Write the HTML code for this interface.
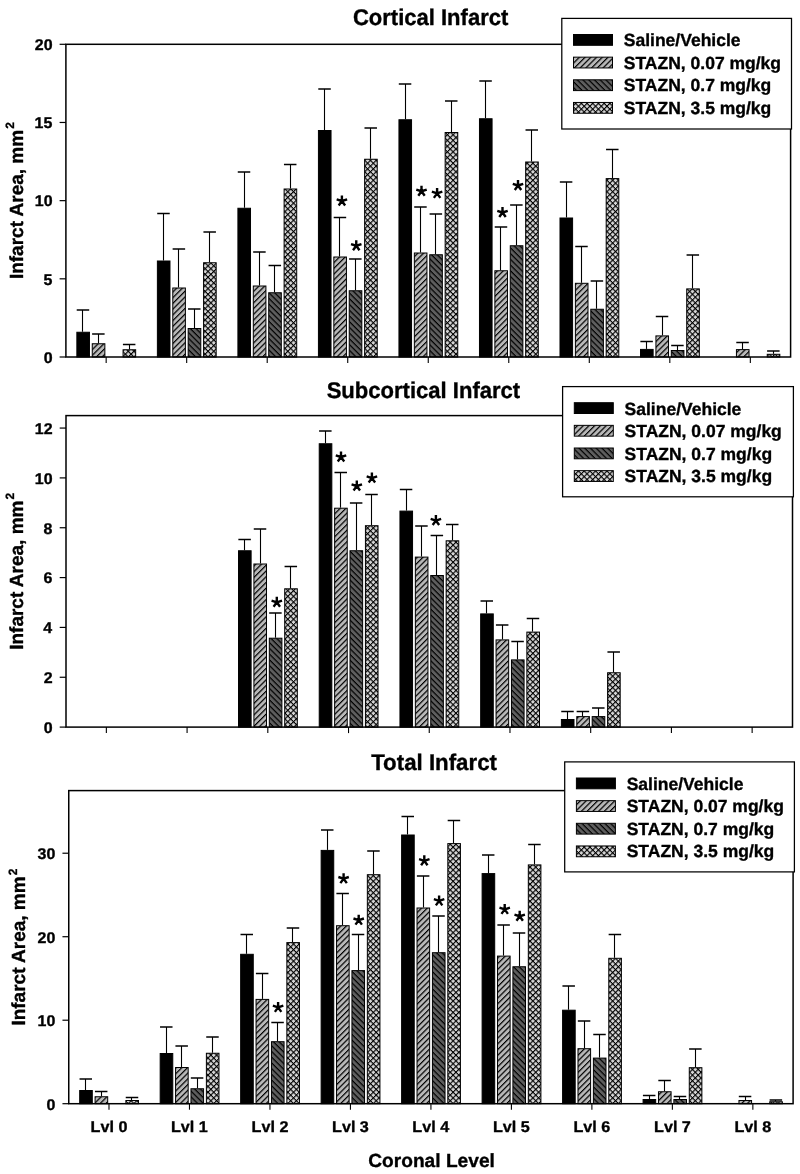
<!DOCTYPE html><html><head><meta charset="utf-8"><style>html,body{margin:0;padding:0;background:#fff;width:800px;height:1174px;overflow:hidden}svg{display:block;will-change:transform}text{font-family:"Liberation Sans",sans-serif;font-weight:bold;fill:#000;text-rendering:geometricPrecision;stroke:#000;stroke-width:0.35px;stroke-linejoin:round}</style></head><body>
<svg width="800" height="1174" viewBox="0 0 800 1174">
<defs>
<pattern id="ph" patternUnits="userSpaceOnUse" width="4.05" height="4.05" patternTransform="rotate(-45)"><rect width="5" height="5" fill="#b8b8b8"/><rect y="0" width="5" height="1.2" fill="#000"/></pattern>
<pattern id="pd" patternUnits="userSpaceOnUse" width="4.05" height="4.05" patternTransform="rotate(45)"><rect width="5" height="5" fill="#5e5e5e"/><rect y="0" width="5" height="1.2" fill="#000"/></pattern>
<pattern id="pc" patternUnits="userSpaceOnUse" width="4.03" height="4.03" patternTransform="rotate(45)"><rect width="5" height="5" fill="#d6d6d6"/><rect width="5" height="1.1" fill="#000"/><rect width="1.1" height="5" fill="#000"/></pattern>
</defs>
<rect width="800" height="1174" fill="#fff"/>
<rect x="76.86" y="332.25" width="12.60" height="24.75" fill="#000" stroke="#000" stroke-width="1"/>
<path d="M82.50 331.75V310.00" stroke="#000" stroke-width="1.1" fill="none"/>
<path d="M76.71 310.00H89.21" stroke="#000" stroke-width="1.5" fill="none"/>
<rect x="92.26" y="343.75" width="12.60" height="13.25" fill="url(#ph)" stroke="#000" stroke-width="1"/>
<path d="M98.50 343.25V334.00" stroke="#000" stroke-width="1.1" fill="none"/>
<path d="M92.11 334.00H104.61" stroke="#000" stroke-width="1.5" fill="none"/>
<rect x="123.06" y="349.75" width="12.60" height="7.25" fill="url(#pc)" stroke="#000" stroke-width="1"/>
<path d="M129.50 349.25V344.50" stroke="#000" stroke-width="1.1" fill="none"/>
<path d="M122.91 344.50H135.41" stroke="#000" stroke-width="1.5" fill="none"/>
<rect x="157.38" y="261.00" width="12.60" height="96.00" fill="#000" stroke="#000" stroke-width="1"/>
<path d="M163.50 260.50V213.50" stroke="#000" stroke-width="1.1" fill="none"/>
<path d="M157.23 213.50H169.73" stroke="#000" stroke-width="1.5" fill="none"/>
<rect x="172.78" y="288.00" width="12.60" height="69.00" fill="url(#ph)" stroke="#000" stroke-width="1"/>
<path d="M178.50 287.50V249.00" stroke="#000" stroke-width="1.1" fill="none"/>
<path d="M172.63 249.00H185.13" stroke="#000" stroke-width="1.5" fill="none"/>
<rect x="188.18" y="328.50" width="12.60" height="28.50" fill="url(#pd)" stroke="#000" stroke-width="1"/>
<path d="M194.50 328.00V309.00" stroke="#000" stroke-width="1.1" fill="none"/>
<path d="M188.03 309.00H200.53" stroke="#000" stroke-width="1.5" fill="none"/>
<rect x="203.58" y="262.75" width="12.60" height="94.25" fill="url(#pc)" stroke="#000" stroke-width="1"/>
<path d="M209.50 262.25V232.00" stroke="#000" stroke-width="1.1" fill="none"/>
<path d="M203.43 232.00H215.93" stroke="#000" stroke-width="1.5" fill="none"/>
<rect x="237.91" y="208.25" width="12.60" height="148.75" fill="#000" stroke="#000" stroke-width="1"/>
<path d="M244.50 207.75V172.00" stroke="#000" stroke-width="1.1" fill="none"/>
<path d="M237.76 172.00H250.26" stroke="#000" stroke-width="1.5" fill="none"/>
<rect x="253.31" y="286.00" width="12.60" height="71.00" fill="url(#ph)" stroke="#000" stroke-width="1"/>
<path d="M259.50 285.50V252.00" stroke="#000" stroke-width="1.1" fill="none"/>
<path d="M253.16 252.00H265.66" stroke="#000" stroke-width="1.5" fill="none"/>
<rect x="268.71" y="292.75" width="12.60" height="64.25" fill="url(#pd)" stroke="#000" stroke-width="1"/>
<path d="M274.50 292.25V265.50" stroke="#000" stroke-width="1.1" fill="none"/>
<path d="M268.56 265.50H281.06" stroke="#000" stroke-width="1.5" fill="none"/>
<rect x="284.11" y="189.00" width="12.60" height="168.00" fill="url(#pc)" stroke="#000" stroke-width="1"/>
<path d="M290.50 188.50V164.50" stroke="#000" stroke-width="1.1" fill="none"/>
<path d="M283.96 164.50H296.46" stroke="#000" stroke-width="1.5" fill="none"/>
<rect x="318.43" y="130.50" width="12.60" height="226.50" fill="#000" stroke="#000" stroke-width="1"/>
<path d="M324.50 130.00V89.00" stroke="#000" stroke-width="1.1" fill="none"/>
<path d="M318.28 89.00H330.78" stroke="#000" stroke-width="1.5" fill="none"/>
<rect x="333.83" y="257.00" width="12.60" height="100.00" fill="url(#ph)" stroke="#000" stroke-width="1"/>
<path d="M339.50 256.50V217.50" stroke="#000" stroke-width="1.1" fill="none"/>
<path d="M333.68 217.50H346.18" stroke="#000" stroke-width="1.5" fill="none"/>
<rect x="349.23" y="290.75" width="12.60" height="66.25" fill="url(#pd)" stroke="#000" stroke-width="1"/>
<path d="M355.50 290.25V259.00" stroke="#000" stroke-width="1.1" fill="none"/>
<path d="M349.08 259.00H361.58" stroke="#000" stroke-width="1.5" fill="none"/>
<rect x="364.63" y="159.25" width="12.60" height="197.75" fill="url(#pc)" stroke="#000" stroke-width="1"/>
<path d="M370.50 158.75V128.00" stroke="#000" stroke-width="1.1" fill="none"/>
<path d="M364.48 128.00H376.98" stroke="#000" stroke-width="1.5" fill="none"/>
<rect x="398.95" y="119.75" width="12.60" height="237.25" fill="#000" stroke="#000" stroke-width="1"/>
<path d="M405.50 119.25V84.00" stroke="#000" stroke-width="1.1" fill="none"/>
<path d="M398.80 84.00H411.30" stroke="#000" stroke-width="1.5" fill="none"/>
<rect x="414.35" y="253.00" width="12.60" height="104.00" fill="url(#ph)" stroke="#000" stroke-width="1"/>
<path d="M420.50 252.50V207.00" stroke="#000" stroke-width="1.1" fill="none"/>
<path d="M414.20 207.00H426.70" stroke="#000" stroke-width="1.5" fill="none"/>
<rect x="429.75" y="254.75" width="12.60" height="102.25" fill="url(#pd)" stroke="#000" stroke-width="1"/>
<path d="M435.50 254.25V214.00" stroke="#000" stroke-width="1.1" fill="none"/>
<path d="M429.60 214.00H442.10" stroke="#000" stroke-width="1.5" fill="none"/>
<rect x="445.15" y="132.50" width="12.60" height="224.50" fill="url(#pc)" stroke="#000" stroke-width="1"/>
<path d="M451.50 132.00V101.00" stroke="#000" stroke-width="1.1" fill="none"/>
<path d="M445.00 101.00H457.50" stroke="#000" stroke-width="1.5" fill="none"/>
<rect x="479.47" y="118.75" width="12.60" height="238.25" fill="#000" stroke="#000" stroke-width="1"/>
<path d="M485.50 118.25V81.00" stroke="#000" stroke-width="1.1" fill="none"/>
<path d="M479.32 81.00H491.82" stroke="#000" stroke-width="1.5" fill="none"/>
<rect x="494.87" y="270.75" width="12.60" height="86.25" fill="url(#ph)" stroke="#000" stroke-width="1"/>
<path d="M500.50 270.25V227.00" stroke="#000" stroke-width="1.1" fill="none"/>
<path d="M494.72 227.00H507.22" stroke="#000" stroke-width="1.5" fill="none"/>
<rect x="510.27" y="245.75" width="12.60" height="111.25" fill="url(#pd)" stroke="#000" stroke-width="1"/>
<path d="M516.50 245.25V205.00" stroke="#000" stroke-width="1.1" fill="none"/>
<path d="M510.12 205.00H522.62" stroke="#000" stroke-width="1.5" fill="none"/>
<rect x="525.67" y="162.00" width="12.60" height="195.00" fill="url(#pc)" stroke="#000" stroke-width="1"/>
<path d="M531.50 161.50V130.00" stroke="#000" stroke-width="1.1" fill="none"/>
<path d="M525.52 130.00H538.02" stroke="#000" stroke-width="1.5" fill="none"/>
<rect x="559.99" y="218.00" width="12.60" height="139.00" fill="#000" stroke="#000" stroke-width="1"/>
<path d="M566.50 217.50V182.00" stroke="#000" stroke-width="1.1" fill="none"/>
<path d="M559.84 182.00H572.34" stroke="#000" stroke-width="1.5" fill="none"/>
<rect x="575.39" y="283.30" width="12.60" height="73.70" fill="url(#ph)" stroke="#000" stroke-width="1"/>
<path d="M581.50 282.80V246.50" stroke="#000" stroke-width="1.1" fill="none"/>
<path d="M575.24 246.50H587.74" stroke="#000" stroke-width="1.5" fill="none"/>
<rect x="590.79" y="309.25" width="12.60" height="47.75" fill="url(#pd)" stroke="#000" stroke-width="1"/>
<path d="M596.50 308.75V281.00" stroke="#000" stroke-width="1.1" fill="none"/>
<path d="M590.64 281.00H603.14" stroke="#000" stroke-width="1.5" fill="none"/>
<rect x="606.19" y="178.60" width="12.60" height="178.40" fill="url(#pc)" stroke="#000" stroke-width="1"/>
<path d="M612.50 178.10V149.50" stroke="#000" stroke-width="1.1" fill="none"/>
<path d="M606.04 149.50H618.54" stroke="#000" stroke-width="1.5" fill="none"/>
<rect x="640.52" y="349.40" width="12.60" height="7.60" fill="#000" stroke="#000" stroke-width="1"/>
<path d="M646.50 348.90V341.50" stroke="#000" stroke-width="1.1" fill="none"/>
<path d="M640.37 341.50H652.87" stroke="#000" stroke-width="1.5" fill="none"/>
<rect x="655.92" y="335.90" width="12.60" height="21.10" fill="url(#ph)" stroke="#000" stroke-width="1"/>
<path d="M662.50 335.40V316.50" stroke="#000" stroke-width="1.1" fill="none"/>
<path d="M655.77 316.50H668.27" stroke="#000" stroke-width="1.5" fill="none"/>
<rect x="671.32" y="350.50" width="12.60" height="6.50" fill="url(#pd)" stroke="#000" stroke-width="1"/>
<path d="M677.50 350.00V345.50" stroke="#000" stroke-width="1.1" fill="none"/>
<path d="M671.17 345.50H683.67" stroke="#000" stroke-width="1.5" fill="none"/>
<rect x="686.72" y="288.90" width="12.60" height="68.10" fill="url(#pc)" stroke="#000" stroke-width="1"/>
<path d="M692.50 288.40V255.00" stroke="#000" stroke-width="1.1" fill="none"/>
<path d="M686.57 255.00H699.07" stroke="#000" stroke-width="1.5" fill="none"/>
<rect x="736.44" y="349.60" width="12.60" height="7.40" fill="url(#ph)" stroke="#000" stroke-width="1"/>
<path d="M742.50 349.10V342.50" stroke="#000" stroke-width="1.1" fill="none"/>
<path d="M736.29 342.50H748.79" stroke="#000" stroke-width="1.5" fill="none"/>
<rect x="767.24" y="354.30" width="12.60" height="2.70" fill="url(#pc)" stroke="#000" stroke-width="1"/>
<path d="M773.50 353.80V351.00" stroke="#000" stroke-width="1.1" fill="none"/>
<path d="M767.09 351.00H779.59" stroke="#000" stroke-width="1.5" fill="none"/>
<path d="M341.90 201.00L341.90 195.50M341.90 201.00L347.13 199.30M341.90 201.00L345.13 205.45M341.90 201.00L338.67 205.45M341.90 201.00L336.67 199.30" stroke="#000" stroke-width="2.4" fill="none"/>
<path d="M356.25 245.75L356.25 240.25M356.25 245.75L361.48 244.05M356.25 245.75L359.48 250.20M356.25 245.75L353.02 250.20M356.25 245.75L351.02 244.05" stroke="#000" stroke-width="2.4" fill="none"/>
<path d="M421.50 191.25L421.50 185.75M421.50 191.25L426.73 189.55M421.50 191.25L424.73 195.70M421.50 191.25L418.27 195.70M421.50 191.25L416.27 189.55" stroke="#000" stroke-width="2.4" fill="none"/>
<path d="M437.10 193.40L437.10 187.90M437.10 193.40L442.33 191.70M437.10 193.40L440.33 197.85M437.10 193.40L433.87 197.85M437.10 193.40L431.87 191.70" stroke="#000" stroke-width="2.4" fill="none"/>
<path d="M502.50 212.50L502.50 207.00M502.50 212.50L507.73 210.80M502.50 212.50L505.73 216.95M502.50 212.50L499.27 216.95M502.50 212.50L497.27 210.80" stroke="#000" stroke-width="2.4" fill="none"/>
<path d="M518.00 185.50L518.00 180.00M518.00 185.50L523.23 183.80M518.00 185.50L521.23 189.95M518.00 185.50L514.77 189.95M518.00 185.50L512.77 183.80" stroke="#000" stroke-width="2.4" fill="none"/>
<rect x="65.90" y="44.30" width="724.70" height="312.70" fill="none" stroke="#000" stroke-width="1.5"/>
<path d="M59.60 357.00H65.9" stroke="#000" stroke-width="1.2"/>
<text x="43.66" y="362.81" font-size="15.5" textLength="8.88" lengthAdjust="spacingAndGlyphs" >0</text>
<path d="M59.60 278.82H65.9" stroke="#000" stroke-width="1.2"/>
<text x="43.40" y="284.57" font-size="15.5" textLength="8.88" lengthAdjust="spacingAndGlyphs" >5</text>
<path d="M59.60 200.65H65.9" stroke="#000" stroke-width="1.2"/>
<text x="34.78" y="206.46" font-size="15.5" textLength="17.76" lengthAdjust="spacingAndGlyphs" >10</text>
<path d="M59.60 122.47H65.9" stroke="#000" stroke-width="1.2"/>
<text x="34.52" y="128.22" font-size="15.5" textLength="17.76" lengthAdjust="spacingAndGlyphs" >15</text>
<path d="M59.60 44.30H65.9" stroke="#000" stroke-width="1.2"/>
<text x="34.78" y="50.11" font-size="15.5" textLength="17.76" lengthAdjust="spacingAndGlyphs" >20</text>
<path d="M106.16 357.00V363.00" stroke="#000" stroke-width="1.1"/>
<path d="M186.68 357.00V363.00" stroke="#000" stroke-width="1.1"/>
<path d="M267.21 357.00V363.00" stroke="#000" stroke-width="1.1"/>
<path d="M347.73 357.00V363.00" stroke="#000" stroke-width="1.1"/>
<path d="M428.25 357.00V363.00" stroke="#000" stroke-width="1.1"/>
<path d="M508.77 357.00V363.00" stroke="#000" stroke-width="1.1"/>
<path d="M589.29 357.00V363.00" stroke="#000" stroke-width="1.1"/>
<path d="M669.82 357.00V363.00" stroke="#000" stroke-width="1.1"/>
<path d="M750.34 357.00V363.00" stroke="#000" stroke-width="1.1"/>
<text x="352.90" y="24.80" font-size="22.7" textLength="155.39" lengthAdjust="spacingAndGlyphs" >Cortical Infarct</text>
<g transform="translate(22.50,277.85) rotate(-90)"><text x="-1.25" y="0.00" font-size="19" >Infarct Area, mm</text><text x="149.16" y="-8.70" font-size="12" >2</text></g>
<rect x="561.80" y="18.40" width="229.70" height="110.60" fill="#fff" stroke="#000" stroke-width="1.25"/>
<rect x="573.50" y="34.50" width="39" height="10.8" fill="#000" stroke="#000" stroke-width="1"/>
<text x="623.80" y="46.40" font-size="17.5" >Saline/Vehicle</text>
<rect x="573.50" y="57.15" width="39" height="10.8" fill="url(#ph)" stroke="#000" stroke-width="1"/>
<text x="623.80" y="68.85" font-size="17.5" >STAZN, 0.07 mg/kg</text>
<rect x="573.50" y="79.80" width="39" height="10.8" fill="url(#pd)" stroke="#000" stroke-width="1"/>
<text x="623.80" y="91.30" font-size="17.5" >STAZN, 0.7 mg/kg</text>
<rect x="573.50" y="102.45" width="39" height="10.8" fill="url(#pc)" stroke="#000" stroke-width="1"/>
<text x="623.80" y="113.75" font-size="17.5" >STAZN, 3.5 mg/kg</text>
<rect x="238.51" y="550.75" width="12.60" height="176.35" fill="#000" stroke="#000" stroke-width="1"/>
<path d="M244.50 550.25V539.50" stroke="#000" stroke-width="1.1" fill="none"/>
<path d="M238.36 539.50H250.86" stroke="#000" stroke-width="1.5" fill="none"/>
<rect x="253.91" y="564.00" width="12.60" height="163.10" fill="url(#ph)" stroke="#000" stroke-width="1"/>
<path d="M260.50 563.50V529.00" stroke="#000" stroke-width="1.1" fill="none"/>
<path d="M253.76 529.00H266.26" stroke="#000" stroke-width="1.5" fill="none"/>
<rect x="269.31" y="638.20" width="12.60" height="88.90" fill="url(#pd)" stroke="#000" stroke-width="1"/>
<path d="M275.50 637.70V613.00" stroke="#000" stroke-width="1.1" fill="none"/>
<path d="M269.16 613.00H281.66" stroke="#000" stroke-width="1.5" fill="none"/>
<rect x="284.71" y="588.80" width="12.60" height="138.30" fill="url(#pc)" stroke="#000" stroke-width="1"/>
<path d="M290.50 588.30V566.50" stroke="#000" stroke-width="1.1" fill="none"/>
<path d="M284.56 566.50H297.06" stroke="#000" stroke-width="1.5" fill="none"/>
<rect x="319.23" y="443.75" width="12.60" height="283.35" fill="#000" stroke="#000" stroke-width="1"/>
<path d="M325.50 443.25V431.00" stroke="#000" stroke-width="1.1" fill="none"/>
<path d="M319.08 431.00H331.58" stroke="#000" stroke-width="1.5" fill="none"/>
<rect x="334.63" y="508.20" width="12.60" height="218.90" fill="url(#ph)" stroke="#000" stroke-width="1"/>
<path d="M340.50 507.70V472.50" stroke="#000" stroke-width="1.1" fill="none"/>
<path d="M334.48 472.50H346.98" stroke="#000" stroke-width="1.5" fill="none"/>
<rect x="350.03" y="550.75" width="12.60" height="176.35" fill="url(#pd)" stroke="#000" stroke-width="1"/>
<path d="M356.50 550.25V503.00" stroke="#000" stroke-width="1.1" fill="none"/>
<path d="M349.88 503.00H362.38" stroke="#000" stroke-width="1.5" fill="none"/>
<rect x="365.43" y="525.70" width="12.60" height="201.40" fill="url(#pc)" stroke="#000" stroke-width="1"/>
<path d="M371.50 525.20V494.50" stroke="#000" stroke-width="1.1" fill="none"/>
<path d="M365.28 494.50H377.78" stroke="#000" stroke-width="1.5" fill="none"/>
<rect x="399.95" y="511.10" width="12.60" height="216.00" fill="#000" stroke="#000" stroke-width="1"/>
<path d="M406.50 510.60V489.50" stroke="#000" stroke-width="1.1" fill="none"/>
<path d="M399.80 489.50H412.30" stroke="#000" stroke-width="1.5" fill="none"/>
<rect x="415.35" y="557.10" width="12.60" height="170.00" fill="url(#ph)" stroke="#000" stroke-width="1"/>
<path d="M421.50 556.60V526.00" stroke="#000" stroke-width="1.1" fill="none"/>
<path d="M415.20 526.00H427.70" stroke="#000" stroke-width="1.5" fill="none"/>
<rect x="430.75" y="575.50" width="12.60" height="151.60" fill="url(#pd)" stroke="#000" stroke-width="1"/>
<path d="M436.50 575.00V535.50" stroke="#000" stroke-width="1.1" fill="none"/>
<path d="M430.60 535.50H443.10" stroke="#000" stroke-width="1.5" fill="none"/>
<rect x="446.15" y="540.80" width="12.60" height="186.30" fill="url(#pc)" stroke="#000" stroke-width="1"/>
<path d="M452.50 540.30V524.50" stroke="#000" stroke-width="1.1" fill="none"/>
<path d="M446.00 524.50H458.50" stroke="#000" stroke-width="1.5" fill="none"/>
<rect x="480.67" y="613.90" width="12.60" height="113.20" fill="#000" stroke="#000" stroke-width="1"/>
<path d="M486.50 613.40V601.00" stroke="#000" stroke-width="1.1" fill="none"/>
<path d="M480.52 601.00H493.02" stroke="#000" stroke-width="1.5" fill="none"/>
<rect x="496.07" y="639.90" width="12.60" height="87.20" fill="url(#ph)" stroke="#000" stroke-width="1"/>
<path d="M502.50 639.40V625.00" stroke="#000" stroke-width="1.1" fill="none"/>
<path d="M495.92 625.00H508.42" stroke="#000" stroke-width="1.5" fill="none"/>
<rect x="511.47" y="659.90" width="12.60" height="67.20" fill="url(#pd)" stroke="#000" stroke-width="1"/>
<path d="M517.50 659.40V641.50" stroke="#000" stroke-width="1.1" fill="none"/>
<path d="M511.32 641.50H523.82" stroke="#000" stroke-width="1.5" fill="none"/>
<rect x="526.87" y="632.10" width="12.60" height="95.00" fill="url(#pc)" stroke="#000" stroke-width="1"/>
<path d="M532.50 631.60V618.50" stroke="#000" stroke-width="1.1" fill="none"/>
<path d="M526.72 618.50H539.22" stroke="#000" stroke-width="1.5" fill="none"/>
<rect x="561.39" y="719.50" width="12.60" height="7.60" fill="#000" stroke="#000" stroke-width="1"/>
<path d="M567.50 719.00V711.50" stroke="#000" stroke-width="1.1" fill="none"/>
<path d="M561.24 711.50H573.74" stroke="#000" stroke-width="1.5" fill="none"/>
<rect x="576.79" y="716.60" width="12.60" height="10.50" fill="url(#ph)" stroke="#000" stroke-width="1"/>
<path d="M582.50 716.10V711.50" stroke="#000" stroke-width="1.1" fill="none"/>
<path d="M576.64 711.50H589.14" stroke="#000" stroke-width="1.5" fill="none"/>
<rect x="592.19" y="716.60" width="12.60" height="10.50" fill="url(#pd)" stroke="#000" stroke-width="1"/>
<path d="M598.50 716.10V708.00" stroke="#000" stroke-width="1.1" fill="none"/>
<path d="M592.04 708.00H604.54" stroke="#000" stroke-width="1.5" fill="none"/>
<rect x="607.59" y="672.75" width="12.60" height="54.35" fill="url(#pc)" stroke="#000" stroke-width="1"/>
<path d="M613.50 672.25V652.00" stroke="#000" stroke-width="1.1" fill="none"/>
<path d="M607.44 652.00H619.94" stroke="#000" stroke-width="1.5" fill="none"/>
<path d="M276.80 602.30L276.80 596.80M276.80 602.30L282.03 600.60M276.80 602.30L280.03 606.75M276.80 602.30L273.57 606.75M276.80 602.30L271.57 600.60" stroke="#000" stroke-width="2.4" fill="none"/>
<path d="M341.00 457.00L341.00 451.50M341.00 457.00L346.23 455.30M341.00 457.00L344.23 461.45M341.00 457.00L337.77 461.45M341.00 457.00L335.77 455.30" stroke="#000" stroke-width="2.4" fill="none"/>
<path d="M356.80 486.00L356.80 480.50M356.80 486.00L362.03 484.30M356.80 486.00L360.03 490.45M356.80 486.00L353.57 490.45M356.80 486.00L351.57 484.30" stroke="#000" stroke-width="2.4" fill="none"/>
<path d="M371.90 478.10L371.90 472.60M371.90 478.10L377.13 476.40M371.90 478.10L375.13 482.55M371.90 478.10L368.67 482.55M371.90 478.10L366.67 476.40" stroke="#000" stroke-width="2.4" fill="none"/>
<path d="M435.90 520.60L435.90 515.10M435.90 520.60L441.13 518.90M435.90 520.60L439.13 525.05M435.90 520.60L432.67 525.05M435.90 520.60L430.67 518.90" stroke="#000" stroke-width="2.4" fill="none"/>
<rect x="66.00" y="415.60" width="726.50" height="311.50" fill="none" stroke="#000" stroke-width="1.5"/>
<path d="M59.70 727.10H66.0" stroke="#000" stroke-width="1.2"/>
<text x="43.76" y="732.91" font-size="15.5" textLength="8.88" lengthAdjust="spacingAndGlyphs" >0</text>
<path d="M59.70 677.26H66.0" stroke="#000" stroke-width="1.2"/>
<text x="43.76" y="683.13" font-size="15.5" textLength="8.88" lengthAdjust="spacingAndGlyphs" >2</text>
<path d="M59.70 627.42H66.0" stroke="#000" stroke-width="1.2"/>
<text x="43.24" y="633.23" font-size="15.5" textLength="8.88" lengthAdjust="spacingAndGlyphs" >4</text>
<path d="M59.70 577.58H66.0" stroke="#000" stroke-width="1.2"/>
<text x="43.63" y="583.39" font-size="15.5" textLength="8.88" lengthAdjust="spacingAndGlyphs" >6</text>
<path d="M59.70 527.74H66.0" stroke="#000" stroke-width="1.2"/>
<text x="43.63" y="533.55" font-size="15.5" textLength="8.88" lengthAdjust="spacingAndGlyphs" >8</text>
<path d="M59.70 477.90H66.0" stroke="#000" stroke-width="1.2"/>
<text x="34.88" y="483.71" font-size="15.5" textLength="17.76" lengthAdjust="spacingAndGlyphs" >10</text>
<path d="M59.70 428.06H66.0" stroke="#000" stroke-width="1.2"/>
<text x="34.88" y="433.94" font-size="15.5" textLength="17.76" lengthAdjust="spacingAndGlyphs" >12</text>
<path d="M106.36 727.10V733.10" stroke="#000" stroke-width="1.1"/>
<path d="M187.08 727.10V733.10" stroke="#000" stroke-width="1.1"/>
<path d="M267.81 727.10V733.10" stroke="#000" stroke-width="1.1"/>
<path d="M348.53 727.10V733.10" stroke="#000" stroke-width="1.1"/>
<path d="M429.25 727.10V733.10" stroke="#000" stroke-width="1.1"/>
<path d="M509.97 727.10V733.10" stroke="#000" stroke-width="1.1"/>
<path d="M590.69 727.10V733.10" stroke="#000" stroke-width="1.1"/>
<path d="M671.42 727.10V733.10" stroke="#000" stroke-width="1.1"/>
<path d="M752.14 727.10V733.10" stroke="#000" stroke-width="1.1"/>
<text x="326.64" y="397.70" font-size="22.7" textLength="193.56" lengthAdjust="spacingAndGlyphs" >Subcortical Infarct</text>
<g transform="translate(22.90,648.55) rotate(-90)"><text x="-1.25" y="0.00" font-size="19" >Infarct Area, mm</text><text x="149.16" y="-8.70" font-size="12" >2</text></g>
<rect x="562.60" y="386.60" width="230.80" height="110.20" fill="#fff" stroke="#000" stroke-width="1.25"/>
<rect x="574.30" y="402.70" width="39" height="10.8" fill="#000" stroke="#000" stroke-width="1"/>
<text x="624.60" y="414.60" font-size="17.5" >Saline/Vehicle</text>
<rect x="574.30" y="425.35" width="39" height="10.8" fill="url(#ph)" stroke="#000" stroke-width="1"/>
<text x="624.60" y="437.05" font-size="17.5" >STAZN, 0.07 mg/kg</text>
<rect x="574.30" y="448.00" width="39" height="10.8" fill="url(#pd)" stroke="#000" stroke-width="1"/>
<text x="624.60" y="459.50" font-size="17.5" >STAZN, 0.7 mg/kg</text>
<rect x="574.30" y="470.65" width="39" height="10.8" fill="url(#pc)" stroke="#000" stroke-width="1"/>
<text x="624.60" y="481.95" font-size="17.5" >STAZN, 3.5 mg/kg</text>
<rect x="79.69" y="1090.50" width="12.60" height="13.20" fill="#000" stroke="#000" stroke-width="1"/>
<path d="M85.50 1090.00V1079.00" stroke="#000" stroke-width="1.1" fill="none"/>
<path d="M79.54 1079.00H92.04" stroke="#000" stroke-width="1.5" fill="none"/>
<rect x="95.09" y="1096.75" width="12.60" height="6.95" fill="url(#ph)" stroke="#000" stroke-width="1"/>
<path d="M101.50 1096.25V1091.50" stroke="#000" stroke-width="1.1" fill="none"/>
<path d="M94.94 1091.50H107.44" stroke="#000" stroke-width="1.5" fill="none"/>
<rect x="125.89" y="1100.50" width="12.60" height="3.20" fill="url(#pc)" stroke="#000" stroke-width="1"/>
<path d="M131.50 1100.00V1097.50" stroke="#000" stroke-width="1.1" fill="none"/>
<path d="M125.74 1097.50H138.24" stroke="#000" stroke-width="1.5" fill="none"/>
<rect x="160.17" y="1053.50" width="12.60" height="50.20" fill="#000" stroke="#000" stroke-width="1"/>
<path d="M166.50 1053.00V1027.00" stroke="#000" stroke-width="1.1" fill="none"/>
<path d="M160.03 1027.00H172.53" stroke="#000" stroke-width="1.5" fill="none"/>
<rect x="175.57" y="1067.50" width="12.60" height="36.20" fill="url(#ph)" stroke="#000" stroke-width="1"/>
<path d="M181.50 1067.00V1046.00" stroke="#000" stroke-width="1.1" fill="none"/>
<path d="M175.43 1046.00H187.93" stroke="#000" stroke-width="1.5" fill="none"/>
<rect x="190.97" y="1088.75" width="12.60" height="14.95" fill="url(#pd)" stroke="#000" stroke-width="1"/>
<path d="M197.50 1088.25V1078.00" stroke="#000" stroke-width="1.1" fill="none"/>
<path d="M190.83 1078.00H203.33" stroke="#000" stroke-width="1.5" fill="none"/>
<rect x="206.38" y="1053.25" width="12.60" height="50.45" fill="url(#pc)" stroke="#000" stroke-width="1"/>
<path d="M212.50 1052.75V1037.00" stroke="#000" stroke-width="1.1" fill="none"/>
<path d="M206.23 1037.00H218.73" stroke="#000" stroke-width="1.5" fill="none"/>
<rect x="240.66" y="954.30" width="12.60" height="149.40" fill="#000" stroke="#000" stroke-width="1"/>
<path d="M246.50 953.80V934.50" stroke="#000" stroke-width="1.1" fill="none"/>
<path d="M240.51 934.50H253.01" stroke="#000" stroke-width="1.5" fill="none"/>
<rect x="256.06" y="999.40" width="12.60" height="104.30" fill="url(#ph)" stroke="#000" stroke-width="1"/>
<path d="M262.50 998.90V973.50" stroke="#000" stroke-width="1.1" fill="none"/>
<path d="M255.91 973.50H268.41" stroke="#000" stroke-width="1.5" fill="none"/>
<rect x="271.46" y="1041.70" width="12.60" height="62.00" fill="url(#pd)" stroke="#000" stroke-width="1"/>
<path d="M277.50 1041.20V1022.50" stroke="#000" stroke-width="1.1" fill="none"/>
<path d="M271.31 1022.50H283.81" stroke="#000" stroke-width="1.5" fill="none"/>
<rect x="286.86" y="942.60" width="12.60" height="161.10" fill="url(#pc)" stroke="#000" stroke-width="1"/>
<path d="M292.50 942.10V928.00" stroke="#000" stroke-width="1.1" fill="none"/>
<path d="M286.71 928.00H299.21" stroke="#000" stroke-width="1.5" fill="none"/>
<rect x="321.14" y="850.40" width="12.60" height="253.30" fill="#000" stroke="#000" stroke-width="1"/>
<path d="M327.50 849.90V830.00" stroke="#000" stroke-width="1.1" fill="none"/>
<path d="M320.99 830.00H333.49" stroke="#000" stroke-width="1.5" fill="none"/>
<rect x="336.54" y="925.70" width="12.60" height="178.00" fill="url(#ph)" stroke="#000" stroke-width="1"/>
<path d="M342.50 925.20V893.50" stroke="#000" stroke-width="1.1" fill="none"/>
<path d="M336.39 893.50H348.89" stroke="#000" stroke-width="1.5" fill="none"/>
<rect x="351.94" y="970.60" width="12.60" height="133.10" fill="url(#pd)" stroke="#000" stroke-width="1"/>
<path d="M358.50 970.10V934.50" stroke="#000" stroke-width="1.1" fill="none"/>
<path d="M351.79 934.50H364.29" stroke="#000" stroke-width="1.5" fill="none"/>
<rect x="367.34" y="874.70" width="12.60" height="229.00" fill="url(#pc)" stroke="#000" stroke-width="1"/>
<path d="M373.50 874.20V851.00" stroke="#000" stroke-width="1.1" fill="none"/>
<path d="M367.19 851.00H379.69" stroke="#000" stroke-width="1.5" fill="none"/>
<rect x="401.62" y="835.00" width="12.60" height="268.70" fill="#000" stroke="#000" stroke-width="1"/>
<path d="M407.50 834.50V816.50" stroke="#000" stroke-width="1.1" fill="none"/>
<path d="M401.48 816.50H413.98" stroke="#000" stroke-width="1.5" fill="none"/>
<rect x="417.02" y="908.00" width="12.60" height="195.70" fill="url(#ph)" stroke="#000" stroke-width="1"/>
<path d="M423.50 907.50V876.00" stroke="#000" stroke-width="1.1" fill="none"/>
<path d="M416.88 876.00H429.38" stroke="#000" stroke-width="1.5" fill="none"/>
<rect x="432.43" y="952.70" width="12.60" height="151.00" fill="url(#pd)" stroke="#000" stroke-width="1"/>
<path d="M438.50 952.20V916.00" stroke="#000" stroke-width="1.1" fill="none"/>
<path d="M432.28 916.00H444.78" stroke="#000" stroke-width="1.5" fill="none"/>
<rect x="447.82" y="843.60" width="12.60" height="260.10" fill="url(#pc)" stroke="#000" stroke-width="1"/>
<path d="M453.50 843.10V820.50" stroke="#000" stroke-width="1.1" fill="none"/>
<path d="M447.68 820.50H460.18" stroke="#000" stroke-width="1.5" fill="none"/>
<rect x="482.11" y="873.60" width="12.60" height="230.10" fill="#000" stroke="#000" stroke-width="1"/>
<path d="M488.50 873.10V855.00" stroke="#000" stroke-width="1.1" fill="none"/>
<path d="M481.96 855.00H494.46" stroke="#000" stroke-width="1.5" fill="none"/>
<rect x="497.51" y="956.10" width="12.60" height="147.60" fill="url(#ph)" stroke="#000" stroke-width="1"/>
<path d="M503.50 955.60V925.00" stroke="#000" stroke-width="1.1" fill="none"/>
<path d="M497.36 925.00H509.86" stroke="#000" stroke-width="1.5" fill="none"/>
<rect x="512.91" y="966.75" width="12.60" height="136.95" fill="url(#pd)" stroke="#000" stroke-width="1"/>
<path d="M519.50 966.25V933.00" stroke="#000" stroke-width="1.1" fill="none"/>
<path d="M512.76 933.00H525.26" stroke="#000" stroke-width="1.5" fill="none"/>
<rect x="528.31" y="864.90" width="12.60" height="238.80" fill="url(#pc)" stroke="#000" stroke-width="1"/>
<path d="M534.50 864.40V844.50" stroke="#000" stroke-width="1.1" fill="none"/>
<path d="M528.16 844.50H540.66" stroke="#000" stroke-width="1.5" fill="none"/>
<rect x="562.59" y="1010.20" width="12.60" height="93.50" fill="#000" stroke="#000" stroke-width="1"/>
<path d="M568.50 1009.70V986.00" stroke="#000" stroke-width="1.1" fill="none"/>
<path d="M562.44 986.00H574.94" stroke="#000" stroke-width="1.5" fill="none"/>
<rect x="577.99" y="1048.70" width="12.60" height="55.00" fill="url(#ph)" stroke="#000" stroke-width="1"/>
<path d="M584.50 1048.20V1021.00" stroke="#000" stroke-width="1.1" fill="none"/>
<path d="M577.84 1021.00H590.34" stroke="#000" stroke-width="1.5" fill="none"/>
<rect x="593.39" y="1058.10" width="12.60" height="45.60" fill="url(#pd)" stroke="#000" stroke-width="1"/>
<path d="M599.50 1057.60V1034.50" stroke="#000" stroke-width="1.1" fill="none"/>
<path d="M593.24 1034.50H605.74" stroke="#000" stroke-width="1.5" fill="none"/>
<rect x="608.79" y="958.30" width="12.60" height="145.40" fill="url(#pc)" stroke="#000" stroke-width="1"/>
<path d="M614.50 957.80V934.50" stroke="#000" stroke-width="1.1" fill="none"/>
<path d="M608.64 934.50H621.14" stroke="#000" stroke-width="1.5" fill="none"/>
<rect x="643.08" y="1099.50" width="12.60" height="4.20" fill="#000" stroke="#000" stroke-width="1"/>
<path d="M649.50 1099.00V1095.50" stroke="#000" stroke-width="1.1" fill="none"/>
<path d="M642.92 1095.50H655.42" stroke="#000" stroke-width="1.5" fill="none"/>
<rect x="658.48" y="1091.75" width="12.60" height="11.95" fill="url(#ph)" stroke="#000" stroke-width="1"/>
<path d="M664.50 1091.25V1080.50" stroke="#000" stroke-width="1.1" fill="none"/>
<path d="M658.32 1080.50H670.82" stroke="#000" stroke-width="1.5" fill="none"/>
<rect x="673.88" y="1099.50" width="12.60" height="4.20" fill="url(#pd)" stroke="#000" stroke-width="1"/>
<path d="M679.50 1099.00V1096.50" stroke="#000" stroke-width="1.1" fill="none"/>
<path d="M673.72 1096.50H686.22" stroke="#000" stroke-width="1.5" fill="none"/>
<rect x="689.28" y="1067.70" width="12.60" height="36.00" fill="url(#pc)" stroke="#000" stroke-width="1"/>
<path d="M695.50 1067.20V1049.00" stroke="#000" stroke-width="1.1" fill="none"/>
<path d="M689.12 1049.00H701.62" stroke="#000" stroke-width="1.5" fill="none"/>
<rect x="738.96" y="1100.50" width="12.60" height="3.20" fill="url(#ph)" stroke="#000" stroke-width="1"/>
<path d="M745.50 1100.00V1096.50" stroke="#000" stroke-width="1.1" fill="none"/>
<path d="M738.81 1096.50H751.31" stroke="#000" stroke-width="1.5" fill="none"/>
<rect x="769.76" y="1101.75" width="12.60" height="1.95" fill="url(#pc)" stroke="#000" stroke-width="1"/>
<path d="M775.50 1101.25V1100.00" stroke="#000" stroke-width="1.1" fill="none"/>
<path d="M769.61 1100.00H782.11" stroke="#000" stroke-width="1.5" fill="none"/>
<path d="M278.10 1007.40L278.10 1001.90M278.10 1007.40L283.33 1005.70M278.10 1007.40L281.33 1011.85M278.10 1007.40L274.87 1011.85M278.10 1007.40L272.87 1005.70" stroke="#000" stroke-width="2.4" fill="none"/>
<path d="M343.60 878.70L343.60 873.20M343.60 878.70L348.83 877.00M343.60 878.70L346.83 883.15M343.60 878.70L340.37 883.15M343.60 878.70L338.37 877.00" stroke="#000" stroke-width="2.4" fill="none"/>
<path d="M358.70 920.20L358.70 914.70M358.70 920.20L363.93 918.50M358.70 920.20L361.93 924.65M358.70 920.20L355.47 924.65M358.70 920.20L353.47 918.50" stroke="#000" stroke-width="2.4" fill="none"/>
<path d="M424.30 860.85L424.30 855.35M424.30 860.85L429.53 859.15M424.30 860.85L427.53 865.30M424.30 860.85L421.07 865.30M424.30 860.85L419.07 859.15" stroke="#000" stroke-width="2.4" fill="none"/>
<path d="M439.10 900.90L439.10 895.40M439.10 900.90L444.33 899.20M439.10 900.90L442.33 905.35M439.10 900.90L435.87 905.35M439.10 900.90L433.87 899.20" stroke="#000" stroke-width="2.4" fill="none"/>
<path d="M504.70 909.40L504.70 903.90M504.70 909.40L509.93 907.70M504.70 909.40L507.93 913.85M504.70 909.40L501.47 913.85M504.70 909.40L499.47 907.70" stroke="#000" stroke-width="2.4" fill="none"/>
<path d="M519.70 916.25L519.70 910.75M519.70 916.25L524.93 914.55M519.70 916.25L522.93 920.70M519.70 916.25L516.47 920.70M519.70 916.25L514.47 914.55" stroke="#000" stroke-width="2.4" fill="none"/>
<rect x="68.75" y="790.60" width="724.35" height="313.10" fill="none" stroke="#000" stroke-width="1.5"/>
<path d="M62.45 1103.70H68.75" stroke="#000" stroke-width="1.2"/>
<text x="46.51" y="1109.51" font-size="15.5" textLength="8.88" lengthAdjust="spacingAndGlyphs" >0</text>
<path d="M62.45 1020.21H68.75" stroke="#000" stroke-width="1.2"/>
<text x="37.63" y="1026.02" font-size="15.5" textLength="17.76" lengthAdjust="spacingAndGlyphs" >10</text>
<path d="M62.45 936.71H68.75" stroke="#000" stroke-width="1.2"/>
<text x="37.63" y="942.53" font-size="15.5" textLength="17.76" lengthAdjust="spacingAndGlyphs" >20</text>
<path d="M62.45 853.22H68.75" stroke="#000" stroke-width="1.2"/>
<text x="37.63" y="859.03" font-size="15.5" textLength="17.76" lengthAdjust="spacingAndGlyphs" >30</text>
<path d="M108.99 1103.70V1109.70" stroke="#000" stroke-width="1.1"/>
<path d="M189.47 1103.70V1109.70" stroke="#000" stroke-width="1.1"/>
<path d="M269.96 1103.70V1109.70" stroke="#000" stroke-width="1.1"/>
<path d="M350.44 1103.70V1109.70" stroke="#000" stroke-width="1.1"/>
<path d="M430.93 1103.70V1109.70" stroke="#000" stroke-width="1.1"/>
<path d="M511.41 1103.70V1109.70" stroke="#000" stroke-width="1.1"/>
<path d="M591.89 1103.70V1109.70" stroke="#000" stroke-width="1.1"/>
<path d="M672.38 1103.70V1109.70" stroke="#000" stroke-width="1.1"/>
<path d="M752.86 1103.70V1109.70" stroke="#000" stroke-width="1.1"/>
<text x="371.16" y="770.40" font-size="22.7" textLength="125.81" lengthAdjust="spacingAndGlyphs" >Total Infarct</text>
<g transform="translate(25.20,1024.35) rotate(-90)"><text x="-1.25" y="0.00" font-size="19" >Infarct Area, mm</text><text x="149.16" y="-8.70" font-size="12" >2</text></g>
<rect x="564.70" y="761.90" width="229.70" height="110.00" fill="#fff" stroke="#000" stroke-width="1.25"/>
<rect x="576.40" y="778.00" width="39" height="10.8" fill="#000" stroke="#000" stroke-width="1"/>
<text x="626.70" y="789.90" font-size="17.5" >Saline/Vehicle</text>
<rect x="576.40" y="800.65" width="39" height="10.8" fill="url(#ph)" stroke="#000" stroke-width="1"/>
<text x="626.70" y="812.35" font-size="17.5" >STAZN, 0.07 mg/kg</text>
<rect x="576.40" y="823.30" width="39" height="10.8" fill="url(#pd)" stroke="#000" stroke-width="1"/>
<text x="626.70" y="834.80" font-size="17.5" >STAZN, 0.7 mg/kg</text>
<rect x="576.40" y="845.95" width="39" height="10.8" fill="url(#pc)" stroke="#000" stroke-width="1"/>
<text x="626.70" y="857.25" font-size="17.5" >STAZN, 3.5 mg/kg</text>
<text x="90.63" y="1131.90" font-size="15.5" textLength="36.88" lengthAdjust="spacingAndGlyphs" >Lvl 0</text>
<text x="170.98" y="1131.90" font-size="15.5" textLength="36.88" lengthAdjust="spacingAndGlyphs" >Lvl 1</text>
<text x="251.60" y="1131.90" font-size="15.5" textLength="36.88" lengthAdjust="spacingAndGlyphs" >Lvl 2</text>
<text x="332.01" y="1131.90" font-size="15.5" textLength="36.88" lengthAdjust="spacingAndGlyphs" >Lvl 3</text>
<text x="412.30" y="1131.90" font-size="15.5" textLength="36.88" lengthAdjust="spacingAndGlyphs" >Lvl 4</text>
<text x="492.92" y="1131.90" font-size="15.5" textLength="36.88" lengthAdjust="spacingAndGlyphs" >Lvl 5</text>
<text x="573.46" y="1131.90" font-size="15.5" textLength="36.88" lengthAdjust="spacingAndGlyphs" >Lvl 6</text>
<text x="654.01" y="1131.90" font-size="15.5" textLength="36.88" lengthAdjust="spacingAndGlyphs" >Lvl 7</text>
<text x="734.43" y="1131.90" font-size="15.5" textLength="36.88" lengthAdjust="spacingAndGlyphs" >Lvl 8</text>
<text x="368.24" y="1167.40" font-size="19" textLength="126.63" lengthAdjust="spacingAndGlyphs" >Coronal Level</text>
</svg></body></html>
